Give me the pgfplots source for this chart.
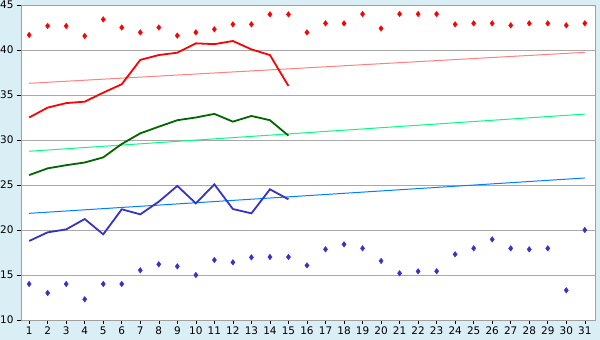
\documentclass[border=0pt]{standalone}
\usepackage{fontspec}
\setmainfont{DejaVu Sans}
\usepackage{pgfplots}
\pgfplotsset{compat=1.18}
\definecolor{bgblue}{HTML}{DAEEF5}
\definecolor{gridgray}{HTML}{A8A8A8}
\definecolor{axgray}{HTML}{A0A0A0}
\definecolor{cred}{HTML}{FF0000}
\definecolor{cpink}{HTML}{FF8080}
\definecolor{cdgreen}{HTML}{006600}
\definecolor{clgreen}{HTML}{00FF80}
\definecolor{cblue}{HTML}{3333CC}
\definecolor{ctblue}{HTML}{0080FF}
\begin{document}
\begin{tikzpicture}
\fill[bgblue] (0,0) rectangle (600bp,340bp);
\useasboundingbox (0,0) rectangle (600bp,340bp);
\begin{axis}[
  at={(21bp,20bp)}, anchor=south west,
  scale only axis, width=574bp, height=315bp,
  xmin=0.56, xmax=31.55, ymin=10, ymax=45,
  xtick={1,...,31}, ytick={10,15,...,45},
  ymajorgrids, grid style={gridgray, line width=0.9pt},
  axis line style={axgray, line width=1pt},
  axis background/.style={fill=white},
  tick style={black, line width=0.6pt},
  tick align=outside, major tick length=4bp,
  xtick pos=bottom, ytick pos=left,
  tick label style={font=\fontsize{10.5}{12}\selectfont},
  /pgf/number format/assume math mode=true,
  xticklabel style={yshift=1bp},
  clip=false,
]
% trend lines
\addplot[cpink, line width=1pt] coordinates {(1,36.3) (31,39.74)};
\addplot[clgreen, line width=1pt] coordinates {(1,28.75) (31,32.88)};
\addplot[ctblue, line width=1pt] coordinates {(1,21.85) (31,25.78)};
% red line
\addplot[cred, line width=1.8pt] coordinates {
(1,32.5) (2,33.6) (3,34.1) (4,34.26) (5,35.26) (6,36.2) (7,38.9) (8,39.44)
(9,39.7) (10,40.74) (11,40.65) (12,41.0) (13,40.07) (14,39.44) (15,36.0)};
% green line
\addplot[cdgreen, line width=1.8pt] coordinates {
(1,26.1) (2,26.85) (3,27.2) (4,27.5) (5,28.07) (6,29.56) (7,30.74) (8,31.48)
(9,32.2) (10,32.5) (11,32.9) (12,32.04) (13,32.67) (14,32.2) (15,30.48)};
% blue line
\addplot[cblue, line width=1.8pt] coordinates {
(1,18.78) (2,19.74) (3,20.07) (4,21.22) (5,19.52) (6,22.3) (7,21.74) (8,23.15)
(9,24.9) (10,22.96) (11,25.07) (12,22.33) (13,21.85) (14,24.52) (15,23.41)};
% red markers
\addplot[only marks, mark=diamond*, mark size=2.8pt, cred, mark options={fill=cred, draw=cred}] coordinates {
(1,41.67) (2,42.67) (3,42.67) (4,41.56) (5,43.4) (6,42.5) (7,41.96) (8,42.5)
(9,41.6) (10,41.96) (11,42.3) (12,42.85) (13,42.85) (14,43.96) (15,43.96)
(16,41.96) (17,42.96) (18,42.96) (19,44) (20,42.4) (21,44) (22,44) (23,44)
(24,42.85) (25,42.96) (26,42.96) (27,42.74) (28,42.96) (29,42.96) (30,42.74) (31,42.96)};
% blue markers
\addplot[only marks, mark=diamond*, mark size=2.8pt, cblue, mark options={fill=cblue, draw=cblue}] coordinates {
(1,14) (2,13) (3,14) (4,12.3) (5,14) (6,14) (7,15.52) (8,16.19) (9,15.96) (10,15)
(11,16.67) (12,16.41) (13,16.96) (14,17) (15,17) (16,16.07) (17,17.85) (18,18.41)
(19,17.96) (20,16.56) (21,15.19) (22,15.41) (23,15.41) (24,17.3) (25,17.96)
(26,18.96) (27,17.96) (28,17.85) (29,17.96) (30,13.3) (31,20)};
\end{axis}
\end{tikzpicture}
\end{document}
